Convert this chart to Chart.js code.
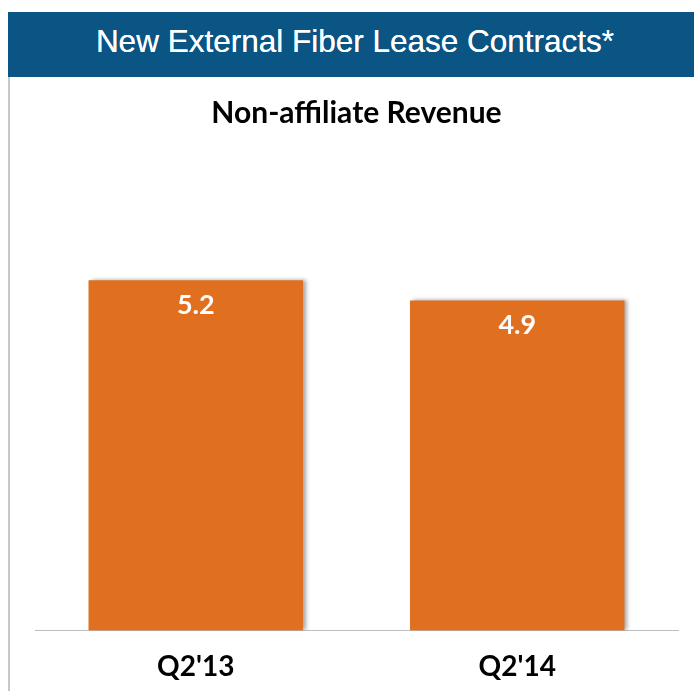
<!DOCTYPE html>
<html>
<head>
<meta charset="utf-8">
<script src="https://cdn.jsdelivr.net/npm/chart.js@4"></script>
<style>
  html, body { margin: 0; padding: 0; background: #fff; }
  #wrap { position: relative; width: 694px; height: 691px; overflow: hidden; }
  #header {
    position: absolute; left: 8px; top: 12px; width: 686px; height: 65px;
    background: #0B5585; color: #fff;
    font-family: "Liberation Sans", Arial, sans-serif; font-size: 31.5px;
    line-height: 58px; text-align: center; padding-left: 8px; box-sizing: border-box;
    text-shadow: 0 0 0.6px #fff;
  }
  #leftLine { position: absolute; left: 8px; top: 77px; width: 2px; height: 614px; background: #c8c8c8; }
  #grafico { position: absolute; left: 0; top: 78px; }
</style>
</head>
<body>
<div id="wrap">
  <div id="header">New External Fiber Lease Contracts*</div>
  <div id="leftLine"></div>
  <canvas id="grafico" width="694" height="626"></canvas>
</div>
<script>
// Dados do gráfico
const categorias = ["Q2'13", "Q2'14"];
const valores = [5.2, 4.9];
const subtitulo = 'Non-affiliate Revenue';

// sombra leve nas barras
const sombra = {
  id: 'sombra',
  beforeDatasetsDraw(chart) {
    const ctx = chart.ctx;
    ctx.save();
    ctx.shadowColor = 'rgba(0,0,0,0.35)';
    ctx.shadowOffsetX = 3;
    ctx.shadowOffsetY = 0;
    ctx.shadowBlur = 4;
  },
  afterDatasetsDraw(chart) {
    chart.ctx.restore();
  }
};

// rótulos dentro das barras
const rotulos = {
  id: 'rotulos',
  afterDatasetsDraw(chart) {
    const ctx = chart.ctx;
    const meta = chart.getDatasetMeta(0);
    ctx.save();
    ctx.fillStyle = '#ffffff';
    ctx.font = 'bold 27px Lato, "Open Sans", sans-serif';
    ctx.textAlign = 'center';
    ctx.textBaseline = 'middle';
    meta.data.forEach((bar, i) => {
      ctx.fillText(valores[i].toFixed(1), bar.x, bar.y + 25);
    });
    ctx.restore();
  }
};

const ctx = document.getElementById('grafico').getContext('2d');
new Chart(ctx, {
  type: 'bar',
  data: {
    labels: categorias,
    datasets: [{
      data: valores,
      backgroundColor: '#E06F1F',
      borderWidth: 0,
      barPercentage: 0.667,
      categoryPercentage: 1
    }]
  },
  options: {
    responsive: false,
    animation: false,
    layout: { padding: { left: 35, right: 16, bottom: 0 } },
    plugins: {
      legend: { display: false },
      tooltip: { enabled: false },
      title: {
        display: true,
        text: subtitulo,
        color: '#000',
        font: { family: 'Lato, "Open Sans", sans-serif', size: 30, weight: 'bold' },
        padding: { top: 17, bottom: 28 }
      }
    },
    scales: {
      x: {
        grid: { display: false, drawTicks: false },
        border: { display: true, color: '#bdbdbd', width: 1 },
        ticks: {
          color: '#000',
          padding: 20,
          font: { family: 'Lato, "Open Sans", sans-serif', size: 28, weight: 'bold' }
        }
      },
      y: {
        display: false,
        min: 0,
        max: 7
      }
    }
  },
  plugins: [sombra, rotulos]
});
</script>
</body>
</html>
